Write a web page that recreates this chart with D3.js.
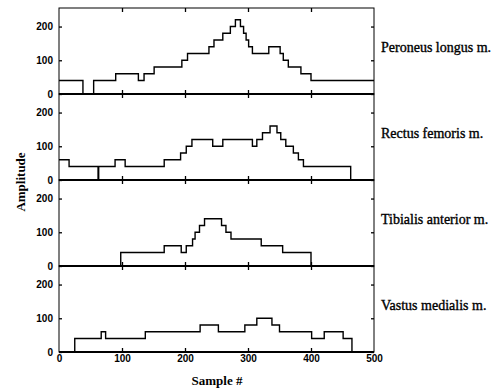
<!DOCTYPE html>
<html>
<head>
<meta charset="utf-8">
<script src="https://cdn.jsdelivr.net/npm/d3@7"></script>
<style>
  body { margin: 0; background: #fff; }
  svg { display: block; }
</style>
</head>
<body>
<div id="chart"></div>
<script>
// muscle names, one panel each
const muscles = ["Peroneus longus m.", "Rectus femoris m.", "Tibialis anterior m.", "Vastus medialis m."];

// step data: sample index where a level starts, and the level
const peroneusSamples = [0, 38, 55, 90, 126, 135, 151, 195, 204, 238, 246, 260, 272, 280, 288, 293, 297, 301, 307, 333, 351, 356, 364, 384, 400, 500];
const peroneusValues  = [40, 0, 40, 60, 40, 60, 80, 100, 120, 140, 160, 180, 200, 220, 200, 180, 160, 140, 120, 140, 120, 100, 80, 60, 40, 40];

const rectusSamples = [0, 16, 62, 63, 89, 105, 167, 193, 202, 211, 244, 260, 307, 314, 323, 335, 346, 352, 360, 372, 380, 388, 463, 500];
const rectusValues  = [60, 40, 0, 40, 60, 40, 60, 80, 100, 120, 100, 120, 100, 120, 140, 160, 140, 120, 100, 80, 60, 40, 0, 0];

const tibialisSamples = [0, 98, 167, 194, 202, 212, 216, 223, 231, 258, 265, 273, 321, 355, 400, 500];
const tibialisValues  = [0, 40, 60, 40, 60, 80, 100, 120, 140, 120, 100, 80, 60, 40, 0, 0];

const vastusSamples = [0, 25, 67, 74, 137, 224, 253, 295, 314, 338, 350, 401, 421, 451, 465, 500];
const vastusValues  = [0, 40, 60, 40, 60, 80, 60, 80, 100, 80, 60, 40, 60, 40, 0, 0];

const xTicks = [0, 100, 200, 300, 400, 500];
const yTicks = [0, 100, 200];

const series = [
  [peroneusSamples, peroneusValues],
  [rectusSamples, rectusValues],
  [tibialisSamples, tibialisValues],
  [vastusSamples, vastusValues]
];

const width = 499, height = 392;
const plotLeft = 59, plotRight = 374, plotTop = 8, panelH = 86;

const svg = d3.select("#chart").append("svg")
  .attr("width", width)
  .attr("height", height);

const x = d3.scaleLinear().domain([0, 500]).range([plotLeft, plotRight]);

const tickFont = a => a.selectAll("text")
  .attr("font-family", "Liberation Sans, Arial, sans-serif")
  .attr("font-size", 10)
  .attr("font-weight", "bold")
  .attr("fill", "#000");

series.forEach(([samples, values], i) => {
  const y0 = plotTop + i * panelH;
  const y = d3.scaleLinear().domain([0, 255]).range([y0 + panelH, y0]);
  const g = svg.append("g");

  // frame
  g.append("rect")
    .attr("x", plotLeft).attr("y", y0)
    .attr("width", plotRight - plotLeft).attr("height", panelH)
    .attr("fill", "none").attr("stroke", "#000").attr("stroke-width", 1);
  g.append("line")
    .attr("x1", plotLeft).attr("x2", plotRight)
    .attr("y1", y(0)).attr("y2", y(0))
    .attr("stroke", "#000").attr("stroke-width", 2.2);

  // inward ticks: left/right y, top/bottom x
  g.append("g").attr("transform", `translate(${plotLeft},0)`)
    .call(d3.axisLeft(y).tickValues(yTicks).tickSize(-3).tickPadding(6).tickFormat(d3.format("d")))
    .call(a => a.select(".domain").remove())
    .call(tickFont);
  g.append("g").attr("transform", `translate(${plotRight},0)`)
    .call(d3.axisRight(y).tickValues(yTicks).tickSize(-3).tickFormat(""))
    .call(a => a.select(".domain").remove());
  g.append("g").attr("transform", `translate(0,${y0 + panelH})`)
    .call(d3.axisBottom(x).tickValues(xTicks.slice(1, -1)).tickSize(-4).tickFormat(""))
    .call(a => a.select(".domain").remove());
  g.append("g").attr("transform", `translate(0,${y0})`)
    .call(d3.axisTop(x).tickValues(xTicks.slice(1, -1)).tickSize(-4).tickFormat(""))
    .call(a => a.select(".domain").remove());
  g.selectAll(".tick line").attr("stroke", "#000").attr("stroke-width", 1.3);

  // the step trace
  const line = d3.line()
    .x(d => x(d))
    .y((d, j) => y(values[j]))
    .curve(d3.curveStepAfter);
  g.append("path")
    .datum(samples)
    .attr("d", line)
    .attr("fill", "none")
    .attr("stroke", "#000")
    .attr("stroke-width", 1.4);

  // muscle name
  svg.append("text")
    .attr("x", 381)
    .attr("y", y0 + 44)
    .attr("font-family", "Liberation Serif, Times New Roman, serif")
    .attr("font-size", 14)
    .attr("stroke", "#000")
    .attr("stroke-width", 0.35)
    .text(muscles[i]);

  if (i === series.length - 1) {
    g.append("g").attr("transform", `translate(0,${y0 + panelH})`)
      .call(d3.axisBottom(x).tickValues(xTicks).tickSize(0).tickPadding(3))
      .call(a => a.select(".domain").remove())
      .call(tickFont);
  }
});

// axis titles
svg.append("text")
  .attr("x", 217).attr("y", 385)
  .attr("text-anchor", "middle")
  .attr("font-family", "Liberation Serif, Times New Roman, serif")
  .attr("font-size", 13)
  .attr("font-weight", "bold")
  .text("Sample #");

svg.append("text")
  .attr("transform", "translate(25,182) rotate(-90)")
  .attr("text-anchor", "middle")
  .attr("font-family", "Liberation Serif, Times New Roman, serif")
  .attr("font-size", 13)
  .attr("font-weight", "bold")
  .text("Amplitude");
</script>
</body>
</html>
